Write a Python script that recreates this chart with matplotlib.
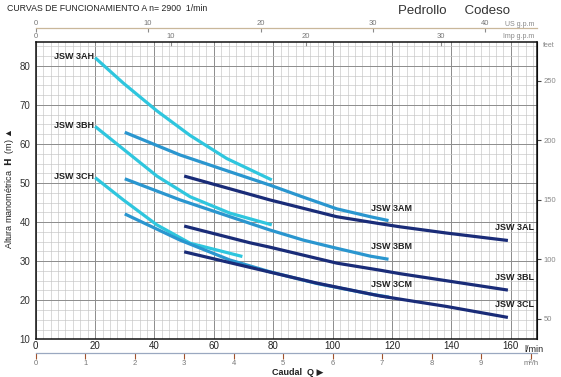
import numpy as np
import matplotlib
matplotlib.use("Agg")
import matplotlib.pyplot as plt
from matplotlib.ticker import MultipleLocator

plt.rcParams["font.family"] = ["Liberation Sans", "DejaVu Sans"]

# flow in l/min, head in m
q_3ah = [20, 29.5, 40.8, 52, 64.3, 79.5]
h_3ah = [82.1, 75.6, 68.5, 62.2, 56.3, 50.8]
q_3bh = [20, 29.5, 40.8, 52, 65.4, 79.5]
h_3bh = [64.5, 58.7, 51.8, 46.5, 42.3, 39.3]
q_3ch = [20, 29.5, 40.8, 52, 69.6]
h_3ch = [51.4, 45.7, 39.3, 34.6, 31.2]

q_3am = [30, 48.6, 65.4, 78.8, 90.1, 101.4, 112.6, 118.8]
h_3am = [63.0, 57.2, 52.9, 49.5, 46.4, 43.4, 41.4, 40.4]
q_3bm = [30, 48.6, 65.4, 78.8, 90.1, 101.4, 112.6, 118.8]
h_3bm = [51.1, 45.7, 41.4, 38.0, 35.4, 33.3, 31.3, 30.5]
q_3cm = [30, 48.6, 65.4, 78.8, 94.6, 112.6, 119]
h_3cm = [42.1, 35.4, 30.3, 27.3, 24.3, 21.6, 20.8]

q_3al = [50, 72.2, 78.8, 101.3, 115.9, 122.7, 138.4, 159]
h_3al = [51.8, 47.1, 45.7, 41.4, 39.6, 38.8, 37.2, 35.3]
q_3bl = [50, 72.2, 78.8, 101.4, 115.9, 122.7, 159]
h_3bl = [39.0, 34.7, 33.6, 29.5, 27.7, 26.8, 22.6]
q_3cl = [50, 72.2, 94.6, 115.9, 138.4, 159]
h_3cl = [32.4, 28.4, 24.4, 21.1, 18.4, 15.6]

us_gpm = [0, 10, 20, 30, 40]
imp_gpm = [0, 10, 20, 30]
m3h = list(range(11))
m3h_labels = [str(v) for v in range(10)] + ["m³/h"]
feet = [50, 100, 150, 200, 250]

C_H, C_M, C_L = "#2fc6de", "#2a96cf", "#1a2c78"

fig = plt.figure(figsize=(5.61, 3.77), dpi=100)
ax = fig.add_axes([0.0636, 0.100, 0.8931, 0.7894])
ax.set_xlim(0, 168.7)
ax.set_ylim(10, 86.2)

ax.xaxis.set_major_locator(MultipleLocator(20))
ax.yaxis.set_major_locator(MultipleLocator(10))
ax.xaxis.set_minor_locator(MultipleLocator(2.5))
ax.yaxis.set_minor_locator(MultipleLocator(2.5))
ax.grid(which="major", color="#8c8c8c", lw=0.7)
ax.grid(which="minor", color="#c4c4c4", lw=0.45)
ax.xaxis.set_tick_params(which="both", length=0)
ax.yaxis.set_tick_params(which="both", length=0)
ax.tick_params(axis="x", labelsize=7, pad=1, labelcolor="#222")
ax.tick_params(axis="y", labelsize=7, pad=4, labelcolor="#333")
ax.set_xticks(range(0, 161, 20))
ax.set_yticks(range(10, 81, 10))
for s in ax.spines.values():
    s.set_color("#111")
    s.set_linewidth(1.1)

curves = [
    (q_3ah, h_3ah, C_H, "JSW 3AH", "H"), (q_3bh, h_3bh, C_H, "JSW 3BH", "H"),
    (q_3ch, h_3ch, C_H, "JSW 3CH", "H"),
    (q_3am, h_3am, C_M, "JSW 3AM", "M"), (q_3bm, h_3bm, C_M, "JSW 3BM", "M"),
    (q_3cm, h_3cm, C_M, "JSW 3CM", "M"),
    (q_3al, h_3al, C_L, "JSW 3AL", "L"), (q_3bl, h_3bl, C_L, "JSW 3BL", "L"),
    (q_3cl, h_3cl, C_L, "JSW 3CL", "L"),
]
for q, h, c, name, kind in curves:
    ax.plot(q, h, color=c, lw=2.3, solid_capstyle="butt", solid_joinstyle="round", zorder=3)
    if kind == "H":
        ax.annotate(name, (q[0], h[0]), xytext=(-1, 1), textcoords="offset points",
                    ha="right", va="center", fontsize=6.5, fontweight="bold", color="#222")
    elif kind == "M":
        ax.annotate(name, (q[-1], h[-1]), xytext=(2, 9), textcoords="offset points",
                    ha="center", va="center", fontsize=6.5, fontweight="bold", color="#222")
    else:
        ax.annotate(name, (q[-1], h[-1]), xytext=(5, 9), textcoords="offset points",
                    ha="center", va="center", fontsize=6.5, fontweight="bold", color="#222")

ax.text(0.976, -0.02, "l/min", transform=ax.transAxes, ha="left", va="top",
        fontsize=6.5, color="#222")

# secondary scales
sec_col = "#8a8a8a"
us = ax.secondary_xaxis(1.046, functions=(lambda x: x / 3.785, lambda x: x * 3.785))
us.set_xticks(us_gpm)
us.tick_params(direction="in", length=3, labelsize=5.5, labelcolor="#777", color=sec_col, pad=1)
us.spines["top"].set_color("#c9b79a")
us.spines["top"].set_linewidth(0.9)
ax.text(0.995, 1.046, "US g.p.m", transform=ax.transAxes, ha="right", va="bottom",
        fontsize=5, color="#888")

imp = ax.secondary_xaxis(1.0, functions=(lambda x: x / 4.546, lambda x: x * 4.546))
imp.set_xticks(imp_gpm)
imp.tick_params(direction="in", length=3, labelsize=5.5, labelcolor="#777", color=sec_col, pad=1)
imp.spines["top"].set_visible(False)
ax.text(0.995, 1.005, "Imp g.p.m", transform=ax.transAxes, ha="right", va="bottom",
        fontsize=5, color="#888")

mh = ax.secondary_xaxis(-0.045, functions=(lambda x: x / 16.667, lambda x: x * 16.667))
mh.set_xticks(m3h)
mh.set_xticklabels(m3h_labels)
mh.tick_params(direction="out", length=4, labelsize=5.5, labelcolor="#777", color="#a0522d", pad=1)
mh.spines["bottom"].set_color("#9aa8c0")
mh.spines["bottom"].set_linewidth(0.9)

ft = ax.secondary_yaxis("right", functions=(lambda m: m / 0.3048, lambda f: f * 0.3048))
ft.set_yticks(feet)
ft.tick_params(direction="out", length=3, labelsize=5.5, labelcolor="#888", color="#444", pad=2)
ax.text(1.012, 1.0, "feet", transform=ax.transAxes, ha="left", va="top", fontsize=5, color="#888")

fig.text(0.53, 0.011, "Caudal  Q ▶", ha="center", va="center", fontsize=6.5,
         fontweight="bold", color="#222")
fig.text(0.017, 0.50, "Altura manométrica  $\\mathbf{H}$  (m) ▲", ha="center", va="center",
         rotation=90, fontsize=6.5, color="#222")

fig.text(0.012, 0.977, "CURVAS DE FUNCIONAMIENTO A n= 2900  1/min", ha="left", va="center",
         fontsize=6.3, color="#222")
fig.text(0.71, 0.972, "Pedrollo     Codeso", ha="left", va="center", fontsize=9.5, color="#333")

fig.savefig("out.png", dpi=100)
